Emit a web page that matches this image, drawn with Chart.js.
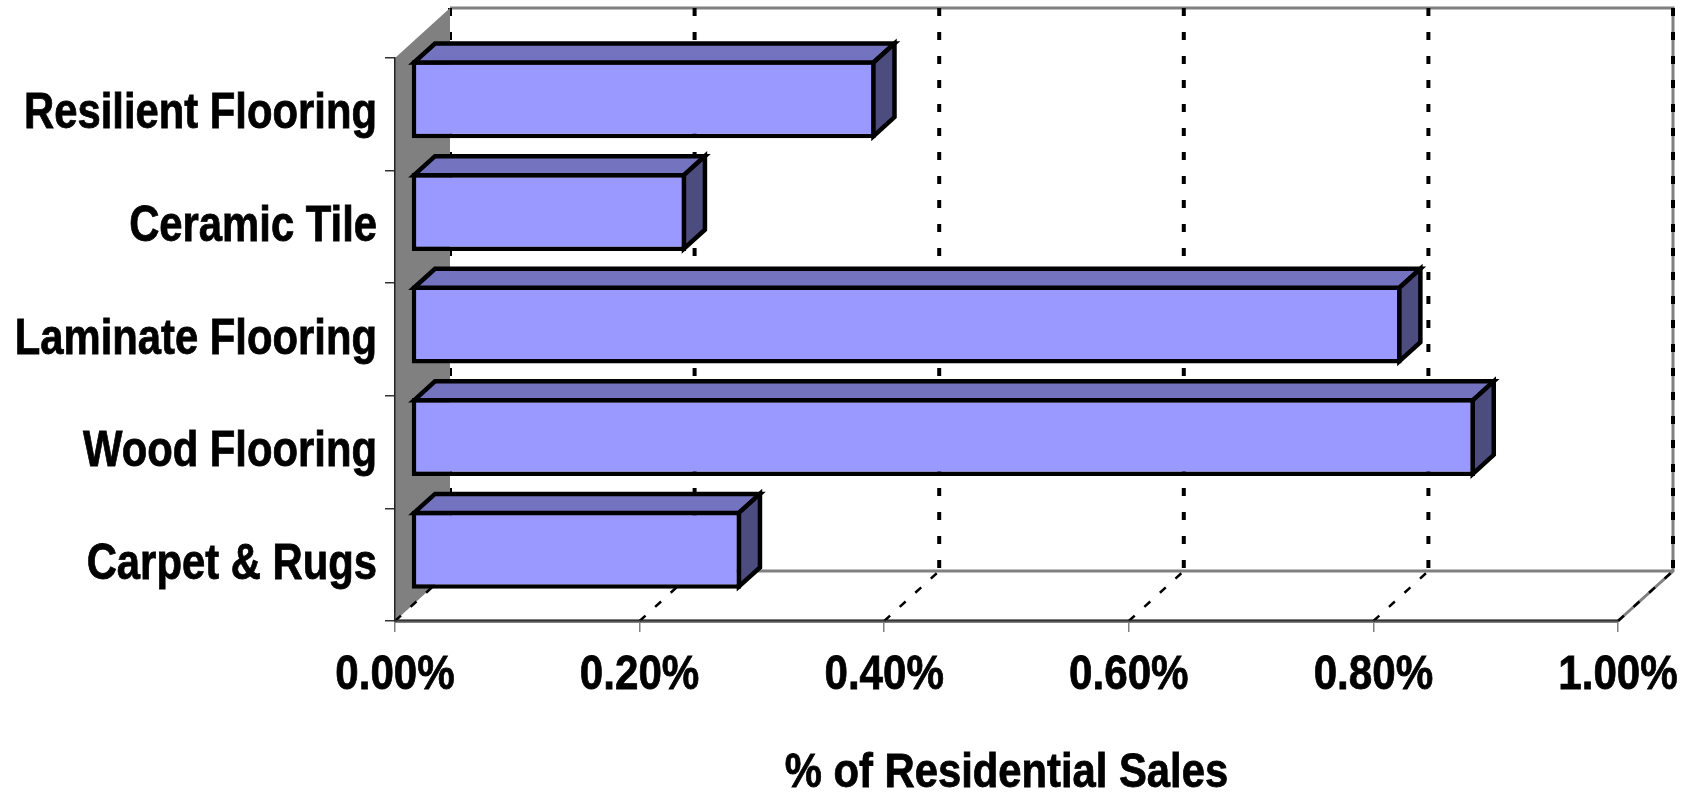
<!DOCTYPE html>
<html>
<head>
<meta charset="utf-8">
<script src="https://cdn.jsdelivr.net/npm/chart.js@4.4.0/dist/chart.umd.min.js"></script>
<style>
  html, body { margin: 0; padding: 0; background: #fff; }
  canvas { display: block; }
</style>
</head>
<body>
<canvas id="salesChart" width="1691" height="793"></canvas>
<script>
const categories = ['Resilient Flooring', 'Ceramic Tile', 'Laminate Flooring', 'Wood Flooring', 'Carpet & Rugs'];
const salesShare = [0.38, 0.225, 0.81, 0.87, 0.27];
const tickValues = [0, 0.2, 0.4, 0.6, 0.8, 1.0];
const axisTitle = '% of Residential Sales';

// oblique offsets: whole box, bar front plane, bar thickness
const boxDepth = { dx: 55, dy: -50 };
const barFront = { dx: 16, dy: -15 };
const barDepth = { dx: 21, dy: -19 };

const fontFamily = "'Liberation Sans', Arial, sans-serif";

function path(ctx, pts) {
  ctx.beginPath();
  ctx.moveTo(pts[0][0], pts[0][1]);
  for (let i = 1; i < pts.length; i++) ctx.lineTo(pts[i][0], pts[i][1]);
}

// condensed heavy text: squeeze the glyphs horizontally by `squeeze`
function narrowText(ctx, text, px, py, size, squeeze) {
  ctx.font = 'bold ' + size + 'px ' + fontFamily;
  const w = ctx.measureText(text).width * squeeze;
  ctx.fillText(text, px, py, w);
  ctx.strokeText(text, px, py, w);
}

const box3d = {
  id: 'box3d',
  beforeDraw(chart) {
    const { ctx, chartArea: a, scales: { x } } = chart;
    const L = a.left, R = a.right, T = a.top, B = a.bottom;
    const dx = boxDepth.dx, dy = boxDepth.dy;
    ctx.save();

    // back wall and floor
    ctx.fillStyle = '#fff';
    ctx.fillRect(L + dx, T + dy, R - L, B - T);
    path(ctx, [[L, B], [L + dx, B + dy], [R + dx, B + dy], [R, B]]);
    ctx.closePath();
    ctx.fill();

    // box outline
    ctx.strokeStyle = '#808080';
    ctx.lineWidth = 3;
    path(ctx, [[L + dx, T + dy], [R + dx, T + dy], [R + dx, B + dy], [R, B]]);
    ctx.stroke();
    path(ctx, [[L + dx, B + dy], [R + dx, B + dy]]);
    ctx.stroke();
    ctx.lineWidth = 4;
    path(ctx, [[L, B], [R, B]]);
    ctx.stroke();

    // dashed gridlines on the back wall
    ctx.strokeStyle = '#000';
    ctx.lineWidth = 4;
    ctx.setLineDash([8, 16]);
    tickValues.forEach(v => {
      const px = x.getPixelForValue(v) + dx;
      path(ctx, [[px, T + dy], [px, B + dy]]);
      ctx.stroke();
    });
    ctx.setLineDash([]);

    // side wall
    ctx.fillStyle = '#808080';
    path(ctx, [[L, T], [L + dx, T + dy], [L + dx, B + dy], [L, B]]);
    ctx.closePath();
    ctx.fill();

    // dashed gridlines across the floor
    ctx.strokeStyle = '#000';
    ctx.lineWidth = 2.5;
    ctx.setLineDash([8, 13]);
    tickValues.forEach(v => {
      const px = x.getPixelForValue(v);
      path(ctx, [[px, B], [px + dx, B + dy]]);
      ctx.stroke();
    });
    ctx.restore();
  },
  beforeDatasetsDraw(chart) {
    chart.ctx.save();
    chart.ctx.translate(barFront.dx, barFront.dy);
  },
  afterDatasetsDraw(chart) {
    const ctx = chart.ctx;
    const dx = barDepth.dx, dy = barDepth.dy;
    const half = 2.25;
    chart.getDatasetMeta(0).data.forEach(bar => {
      const p = bar.getProps(['x', 'y', 'base', 'height'], true);
      const left = Math.min(p.base, p.x) + half;
      const right = Math.max(p.base, p.x) - half;
      const top = p.y - p.height / 2 + half;
      const bottom = p.y + p.height / 2 - half;
      ctx.lineWidth = half * 2;
      ctx.lineJoin = 'miter';
      ctx.strokeStyle = '#000';
      ctx.fillStyle = '#7373bf';
      path(ctx, [[left, top], [left + dx, top + dy], [right + dx, top + dy], [right, top]]);
      ctx.closePath();
      ctx.fill();
      ctx.stroke();
      ctx.fillStyle = '#4c4c7f';
      path(ctx, [[right, top], [right + dx, top + dy], [right + dx, bottom + dy], [right, bottom]]);
      ctx.closePath();
      ctx.fill();
      ctx.stroke();
    });
    ctx.restore();
  },
  afterDraw(chart) {
    const { ctx, chartArea: a, scales: { x, y } } = chart;
    ctx.save();
    ctx.fillStyle = '#000';
    ctx.strokeStyle = '#000';
    ctx.lineWidth = 0.8;
    ctx.textBaseline = 'alphabetic';

    // category names
    ctx.textAlign = 'right';
    categories.forEach((c, i) => {
      narrowText(ctx, c, a.left - 18, y.getPixelForValue(i) + 14, 50, 0.836);
    });

    // percentage ticks
    ctx.textAlign = 'center';
    tickValues.forEach(v => {
      narrowText(ctx, v.toFixed(2) + '%', x.getPixelForValue(v), a.bottom + 68, 49, 0.86);
    });

    // axis title
    narrowText(ctx, axisTitle, (a.left + a.right) / 2, 787, 48, 0.87);
    ctx.restore();
  }
};

new Chart(document.getElementById('salesChart'), {
  type: 'bar',
  data: {
    labels: categories,
    datasets: [{
      data: salesShare,
      backgroundColor: '#9999ff',
      borderColor: '#000',
      borderWidth: 4.5,
      borderSkipped: false,
      barPercentage: 0.693,
      categoryPercentage: 1.0,
      clip: false
    }]
  },
  options: {
    indexAxis: 'y',
    responsive: false,
    animation: false,
    layout: { padding: { top: 58, right: 73, bottom: 0, left: 0 } },
    plugins: {
      legend: { display: false },
      tooltip: { enabled: false }
    },
    scales: {
      x: {
        type: 'linear',
        min: 0,
        max: 1,
        afterBuildTicks: scale => { scale.ticks = tickValues.map(v => ({ value: v })); },
        afterFit: scale => { scale.height = 172; },
        grid: { drawOnChartArea: false, drawTicks: true, tickLength: 11, color: '#808080', lineWidth: 1.5 },
        border: { display: true, color: '#333', width: 1.5 },
        ticks: { display: false },
        title: { display: false, text: axisTitle }
      },
      y: {
        afterFit: scale => { scale.width = 395; },
        grid: { drawOnChartArea: false, drawTicks: true, tickLength: 10, color: '#333', lineWidth: 1.5 },
        border: { display: true, color: '#222', width: 1.5 },
        ticks: { display: false }
      }
    }
  },
  plugins: [box3d]
});
</script>
</body>
</html>
